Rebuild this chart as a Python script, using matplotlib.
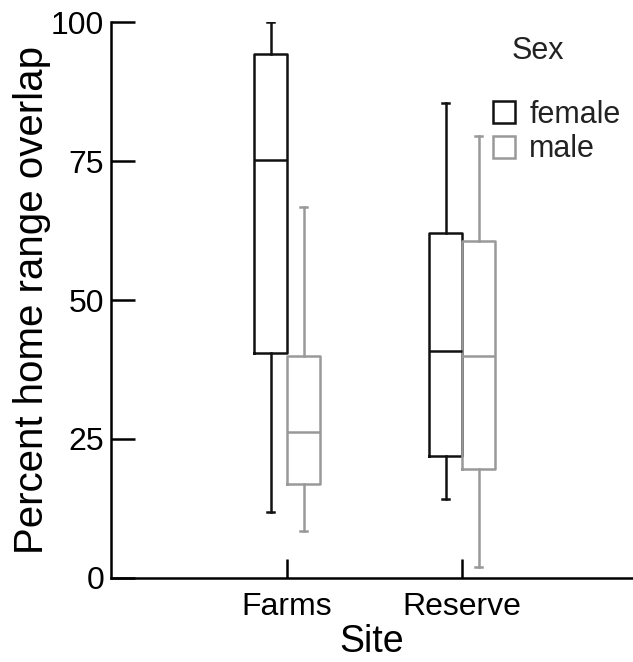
import matplotlib
matplotlib.use("Agg")
import matplotlib.pyplot as plt
from matplotlib.patches import Patch

plt.rcParams['font.family'] = ['Liberation Sans', 'DejaVu Sans']

sites = ["Farms", "Reserve"]
sexes = ["female", "male"]
colors = {"female": "#111111", "male": "#999999"}

# five-number summaries: whislo, q1, med, q3, whishi
female_stats = {
    "Farms":   [11.8, 40.4, 75.2, 94.3, 100.0],
    "Reserve": [14.1, 22.0, 40.9, 62.1, 85.4],
}
male_stats = {
    "Farms":   [8.4, 16.9, 26.3, 39.9, 66.8],
    "Reserve": [2.0, 19.5, 39.9, 60.6, 79.6],
}
yticks = [0, 25, 50, 75, 100]

fig = plt.figure(figsize=(6.33, 6.62), dpi=100)
ax = fig.add_axes([0.1754, 0.1273, 0.8246, 0.8390])

box_w = 0.189
offsets = {"female": -box_w / 2, "male": box_w / 2}
for sex, data in (("female", female_stats), ("male", male_stats)):
    stats = []
    positions = []
    for i, s in enumerate(sites):
        lo, q1, med, q3, hi = data[s]
        stats.append(dict(whislo=lo, q1=q1, med=med, q3=q3, whishi=hi, fliers=[], label=s))
        positions.append(i + offsets[sex])
    c = colors[sex]
    lw = 1.8
    ax.bxp(stats, positions=positions, widths=box_w, showfliers=False,
           capwidths=0.04,
           boxprops=dict(color=c, linewidth=lw),
           medianprops=dict(color=c, linewidth=lw),
           whiskerprops=dict(color=c, linewidth=lw),
           capprops=dict(color=c, linewidth=lw),
           manage_ticks=False)

ax.set_xlim(-1.006, 1.977)
ax.set_ylim(0, 100)
ax.set_xticks(range(len(sites)))
ax.set_xticklabels(sites)
ax.set_yticks(yticks)
ax.set_yticklabels([str(t) for t in yticks])
for sp in ("top", "right"):
    ax.spines[sp].set_visible(False)
for sp in ("left", "bottom"):
    ax.spines[sp].set_linewidth(1.8)
ax.tick_params(axis="y", direction="in", length=17, width=1.8, labelsize=23, pad=5)
ax.tick_params(axis="x", direction="in", length=14, width=1.8, labelsize=23, pad=10)
ax.set_xlabel("Site", fontsize=27, labelpad=2)
ax.set_ylabel("Percent home range overlap", fontsize=29, labelpad=0)

handles = [Patch(facecolor="white", edgecolor=colors[s], linewidth=1.8, label=s) for s in sexes]
leg = ax.legend(handles=handles, title="Sex", loc="upper left",
                bbox_to_anchor=(0.69, 1.013), frameon=False, fontsize=22,
                title_fontsize=22, handlelength=0.75, handleheight=0.75,
                handletextpad=0.45, labelspacing=0.15, borderpad=0.2)
for t in leg.get_texts():
    t.set_color("#222222")
leg.get_title().set_color("#222222")
leg.get_title().set_x(-19)
leg._legend_box.sep = 24

fig.savefig("out.png", dpi=100)
